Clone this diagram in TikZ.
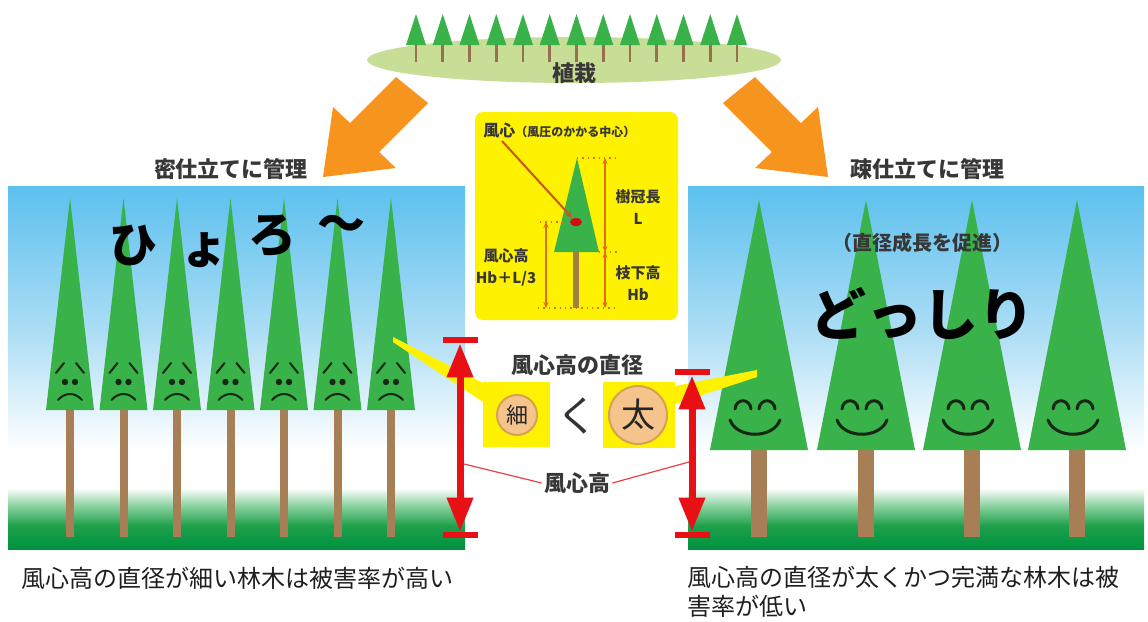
\documentclass[tikz,border=0pt]{standalone}
\usepackage{fontspec}
\setmainfont{Noto Sans CJK JP}
\usetikzlibrary{arrows.meta,shapes.geometric}

\definecolor{skytop}{RGB}{92,192,238}
\definecolor{skymid}{RGB}{172,221,245}
\definecolor{grasslight}{RGB}{140,210,160}
\definecolor{grassmid}{RGB}{30,160,75}
\definecolor{grassdark}{RGB}{0,146,63}
\definecolor{treegreen}{RGB}{58,178,74}
\definecolor{trunkbrown}{RGB}{168,126,86}
\definecolor{trunkolive}{RGB}{160,128,64}
\definecolor{plantgreen}{RGB}{200,222,150}
\definecolor{arroworange}{RGB}{247,148,30}
\definecolor{boxyellow}{RGB}{255,242,0}
\definecolor{markred}{RGB}{232,16,20}
\definecolor{peach}{RGB}{245,196,140}
\definecolor{peachedge}{RGB}{214,162,80}
\definecolor{guideorange}{RGB}{225,110,30}
\definecolor{pointerbrown}{RGB}{200,85,25}
\definecolor{labelgray}{RGB}{55,55,55}
\definecolor{facedark}{RGB}{20,40,20}

% sky fading to white, then grass at the bottom
\pgfdeclareverticalshading{skyground}{100bp}{color(0bp)=(grassdark); color(25bp)=(grassdark); color(28.2bp)=(grassmid); color(31bp)=(grasslight); color(33.4bp)=(white); color(38.5bp)=(white); color(55bp)=(skymid); color(75bp)=(skytop); color(100bp)=(skytop)}

\newcommand\setfs[1]{\fontsize{#1}{#1}\selectfont}

\begin{document}
\begin{tikzpicture}[x=0.5pt,y=-0.5pt,
  label/.style={text=labelgray,font=\bfseries,inner sep=1pt},
  bodytext/.style={text=black!88,inner sep=0pt},
  redbar/.style={rectangle,fill=markred,minimum width=17.5pt,minimum height=3pt,inner sep=0pt},
  redarrow/.style={draw=markred,line width=3.5pt,{Triangle[length=17pt,width=12.5pt]}-{Triangle[length=17pt,width=12.5pt]}},
  thinred/.style={draw=markred!80,line width=0.6pt},
  guide/.style={draw=guideorange,dotted,line width=0.7pt},
  dim/.style={draw=guideorange,line width=0.8pt,{Stealth[length=3pt,width=2.6pt]}-{Stealth[length=3pt,width=2.6pt]}},
  sadface/.style={draw=facedark,line width=1pt,line cap=round},
  happyface/.style={draw=facedark,line width=1.5pt,line cap=round},
  beam/.style={fill=boxyellow},
  coin/.style={circle,fill=peach,draw=peachedge,line width=1pt,inner sep=0pt,text=black!85}
]
\useasboundingbox (0,0) rectangle (1148,622);
\fill[white] (0,0) rectangle (1148,622);

% ---- planting at the top, with the two management arrows
\fill[arroworange] (396,77) -- (350,123) -- (333,107) -- (323,177) -- (396,168) -- (379,152) -- (428,103) -- cycle;
\fill[arroworange] (755,77) -- (801,123) -- (818,107) -- (828,177) -- (755,168) -- (772,152) -- (723,103) -- cycle;
\fill[plantgreen] (574,60) ellipse [x radius=207, y radius=23];
\foreach \i in {0,...,12}{
  \pgfmathsetmacro\tx{416+26.75*\i}
  \fill[trunkbrown!90!black] (\tx-1.3,40) rectangle (\tx+1.3,62);
  \fill[treegreen] (\tx,14) -- (\tx+10,45) -- (\tx-10,45) -- cycle;
}
\node[label] (plant) at (574,73) {\setfs{11}植栽};

\node[label] (dense) at (231,169) {\setfs{11}密仕立てに管理};
\node[label] (sparse) at (927,169) {\setfs{11}疎仕立てに管理};

% ---- dense stand (left)
\shade[shading=skyground] (8,186) rectangle (465,549);
\foreach \c in {70,123.5,177,230.5,284,337.5,391}{
  \fill[trunkbrown] (\c-4,405) rectangle (\c+4,537);
  \fill[treegreen] (\c,198) -- (\c+24,410) -- (\c-24,410) -- cycle;
  \draw[sadface] (\c-14,373) -- (\c-6,363);
  \draw[sadface] (\c+6,363) -- (\c+14,373);
  \fill[facedark] (\c-5,382) circle (3.2);
  \fill[facedark] (\c+5,382) circle (3.2);
  \draw[sadface] (\c-12,400) .. controls (\c-5,392) and (\c+5,392) .. (\c+12,400);
}
\node[inner sep=0pt] (hyo1) at (133,245) {\setfs{24}\bfseries ひ};
\node[inner sep=0pt] (hyo2) at (204,250) {\setfs{24}\bfseries ょ};
\node[inner sep=0pt] (hyo3) at (272,236) {\setfs{24}\bfseries ろ};
\node[inner sep=0pt] (hyo4) at (341,228) {\setfs{24}\bfseries 〜};

% ---- sparse stand (right)
\shade[shading=skyground] (688,186) rectangle (1144,549);
\foreach \c in {759,866,972,1077}{
  \pgfmathsetmacro\f{\c-4}
  \fill[trunkbrown] (\c-8,445) rectangle (\c+8,537);
  \fill[treegreen] (\c,200) -- (\c+49,450) -- (\c-49,450) -- cycle;
  \draw[happyface] (\f-20,409) .. controls (\f-19,398) and (\f-5,398) .. (\f-4,409);
  \draw[happyface] (\f+4,409) .. controls (\f+5,398) and (\f+19,398) .. (\f+20,409);
  \draw[happyface] (\f-25,420) .. controls (\f-18,439) and (\f+18,439) .. (\f+25,420);
}
\node[label] (promote) at (922,243) {\setfs{10}（直径成長を促進）};
\node[inner sep=0pt] (dossiri) at (922,314) {\setfs{28}\bfseries どっしり};

% ---- definition box
\fill[boxyellow,rounded corners=4pt] (475,112) rectangle (678,320);
\fill[trunkolive] (573,252) rectangle (579,308);
\fill[treegreen] (577,158) -- (599,252) -- (554,252) -- cycle;
\node[ellipse,fill=markred!90!black,minimum width=6pt,minimum height=4pt,inner sep=0pt] (wcdot) at (576,222) {};
\node[label,anchor=west] (wctitle) at (481,130) {\setfs{8}風心\setfs{6}（風圧のかかる中心）};
\coordinate (ptrstart) at (502,141);
\draw[draw=pointerbrown,line width=1pt,-{Stealth[length=4pt,width=3pt]}] (ptrstart) -- (wcdot);
\coordinate (ctop) at (605,158);
\coordinate (cbase) at (605,252);
\coordinate (cground) at (605,308);
\coordinate (wclevel) at (546,222);
\coordinate (wcground) at (546,308);
\draw[guide] (577,158) -- (617,158);
\draw[guide] (540,222) -- (571,222);
\draw[guide] (599,252) -- (617,252);
\draw[guide] (538,308) -- (615,308);
\draw[dim] (ctop) -- (cbase);
\draw[dim] (cbase) -- (cground);
\draw[dim] (wclevel) -- (wcground);
\node[label,align=center] (crown) at (638,207) {\setfs{7.5}樹冠長\\[-1pt]\setfs{7.5}L};
\node[label,align=center] (bole) at (638,283) {\setfs{7.5}枝下高\\[-1pt]\setfs{7.5}Hb};
\node[label,align=center] (wch) at (506,267) {\setfs{7.5}風心高\\[-1pt]\setfs{7.5}Hb＋L/3};

% ---- diameter comparison at the wind-centre height
\fill[beam] (393,337) -- (483,383) -- (483,402) -- (393,342) -- cycle;
\fill[beam] (757,370) -- (675,386) -- (675,404) -- (757,377) -- cycle;
\fill[boxyellow] (483,382) rectangle (550,447);
\fill[boxyellow] (603,382) rectangle (675,448);
\node[coin,minimum size=20pt] (thin) at (517,415) {\setfs{11}細};
\node[coin,minimum size=29pt] (thick) at (638,415) {\setfs{17}太};
\node[text=black!80,inner sep=0pt] (less) at (577,416) {\setfs{21}く};
\node[label] (dcomp) at (577,365) {\setfs{11}風心高の直径};

\node[redbar] (ltop) at (460,340) {};
\node[redbar] (lbot) at (460,535) {};
\draw[redarrow] (ltop.south) -- (lbot.north);
\node[redbar] (rtop) at (692,372) {};
\node[redbar] (rbot) at (692,535) {};
\draw[redarrow] (rtop.south) -- (rbot.north);

\node[label] (wclabel) at (577,483) {\setfs{11}風心高};
\coordinate (lhook) at (464,464);
\coordinate (rhook) at (689,462);
\draw[thinred] (lhook) -- (wclabel.west);
\draw[thinred] (wclabel.east) -- (rhook);

% ---- captions
\node[bodytext,anchor=base west] (capleft) at (21,587) {\setfs{12}風心高の直径が細い林木は被害率が高い};
\node[bodytext,anchor=base west,align=left,font={\fontsize{12}{14.5}\selectfont}] (capright) at (687,615) {風心高の直径が太くかつ完満な林木は被\\害率が低い};
\end{tikzpicture}
\end{document}
